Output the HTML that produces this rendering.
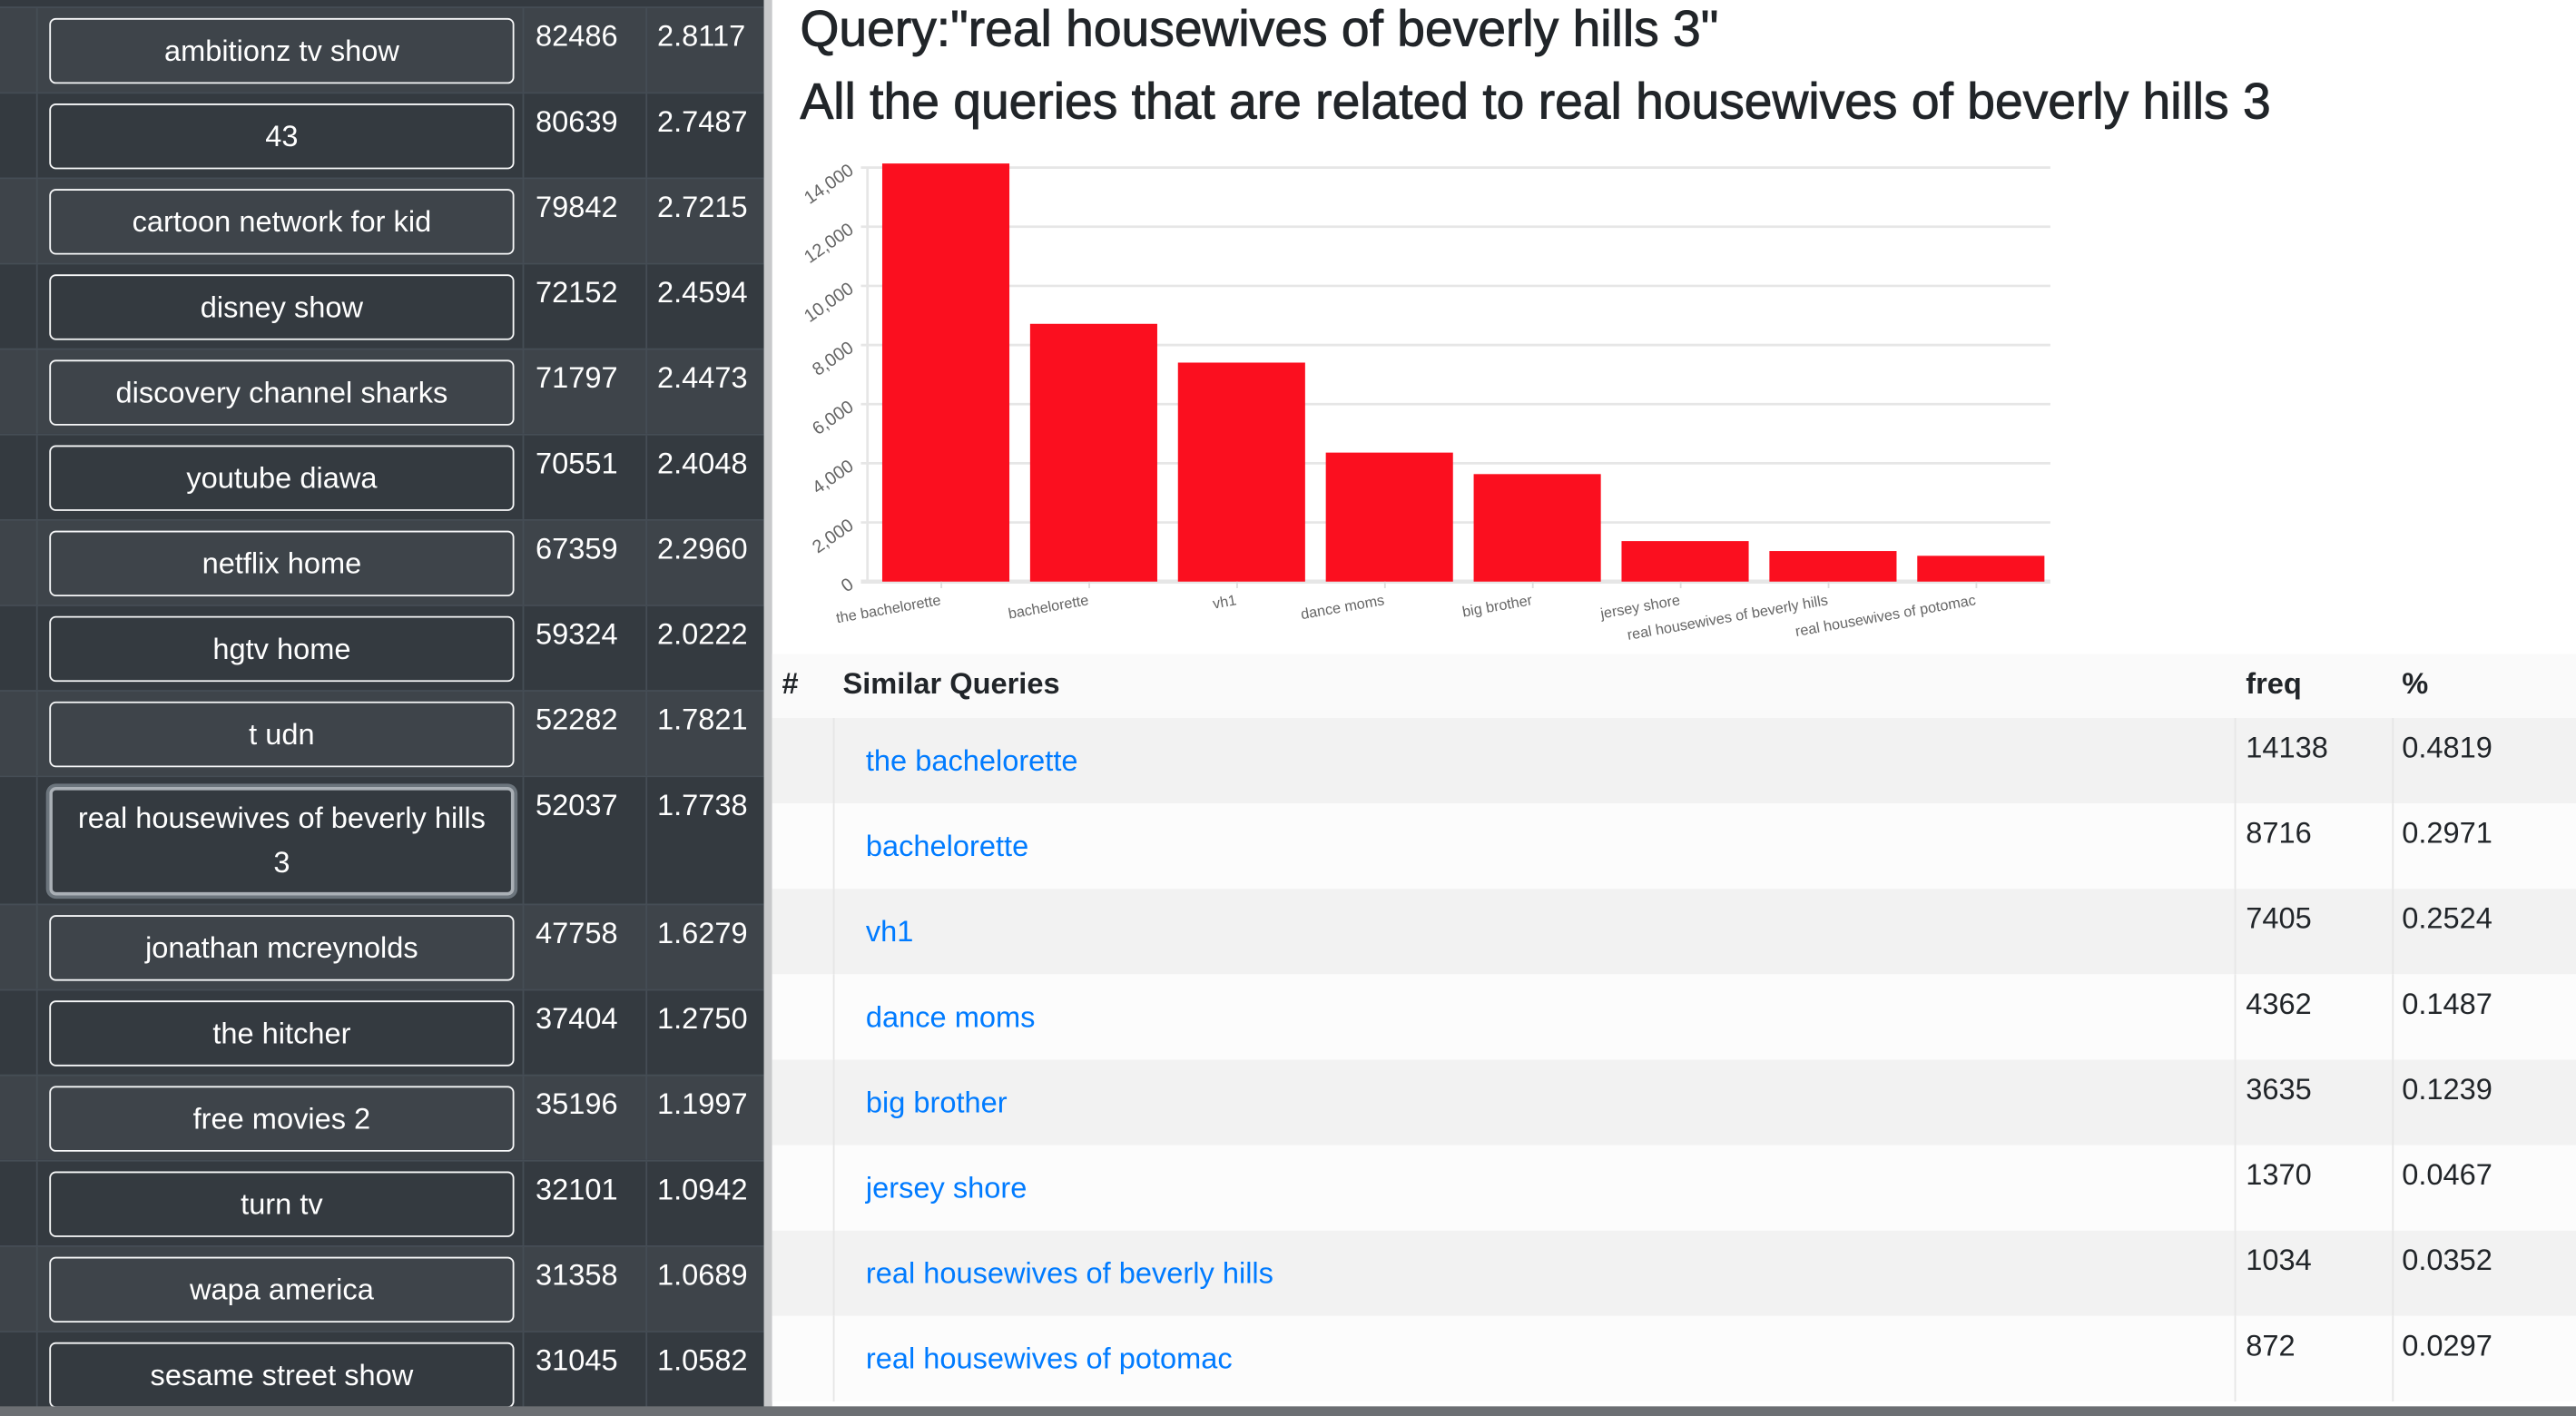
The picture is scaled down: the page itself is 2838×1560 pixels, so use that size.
<!DOCTYPE html>
<html><head><meta charset="utf-8">
<style>
html,body{margin:0;padding:0;width:2838px;height:1560px;overflow:hidden;background:#fff;}
#wrap{position:absolute;left:0;top:0;width:1568px;height:862px;transform:scale(1.81);transform-origin:0 0;font-family:"Liberation Sans",sans-serif;}
#left{position:absolute;left:0;top:0;width:465px;height:862px;background:#343a40;}
.row{position:absolute;left:0;width:465px;border-top:1px solid #454d55;box-sizing:border-box;}
.row .c0{position:absolute;left:22px;top:0;bottom:0;border-left:1px solid #454d55;}
.row .c2{position:absolute;left:318px;top:0;bottom:0;border-left:1px solid #454d55;}
.row .c3{position:absolute;left:393px;top:0;bottom:0;border-left:1px solid #454d55;}
.btn{position:absolute;left:30px;width:283px;border:1.5px solid #f8f9fa;border-radius:4px;box-sizing:border-box;color:#fff;font-size:18px;display:flex;align-items:center;justify-content:center;text-align:center;line-height:27px;}
.num{position:absolute;color:#fff;font-size:18px;top:7px;}
#scroll{position:absolute;left:465px;top:0;width:5px;height:862px;background:#c8c9cb;}
h1{position:absolute;margin:0;font-weight:normal;font-size:30.5px;color:#212529;left:487px;white-space:nowrap;-webkit-text-stroke:0.5px #212529;}
#tbl{position:absolute;left:470px;top:398px;width:1098px;}
.tr{position:absolute;left:0;width:1098px;}
.tr .v{position:absolute;top:0;bottom:0;border-left:1px solid #e6e6e6;}
.lnk{position:absolute;left:57px;color:#007bff;font-size:18px;}
.td{position:absolute;font-size:18px;color:#212529;top:8px;}
</style></head><body>
<div id="wrap">
<div id="left"></div>
<div id="scroll"></div>
<h1 style="top:1px">Query:"real housewives of beverly hills 3"</h1>
<h1 style="top:45px">All the queries that are related to real housewives of beverly hills 3</h1>
<svg id="chart" style="position:absolute;left:470px;top:90px" width="800" height="300"></svg>
<div id="tbl"></div>
<div style="position:absolute;left:0;top:856px;width:1568px;height:6px;background:#6c6f73"></div>
</div>
<script>
const leftNames=["ambitionz tv show","43","cartoon network for kid","disney show","discovery channel sharks","youtube diawa","netflix home","hgtv home","t udn","real housewives of beverly hills 3","jonathan mcreynolds","the hitcher","free movies 2","turn tv","wapa america","sesame street show"];
const leftFreq=["82486","80639","79842","72152","71797","70551","67359","59324","52282","52037","47758","37404","35196","32101","31358","31045"];
const leftPct=["2.8117","2.7487","2.7215","2.4594","2.4473","2.4048","2.2960","2.0222","1.7821","1.7738","1.6279","1.2750","1.1997","1.0942","1.0689","1.0582"];
const cats=["the bachelorette","bachelorette","vh1","dance moms","big brother","jersey shore","real housewives of beverly hills","real housewives of potomac"];
const freqs=[14138,8716,7405,4362,3635,1370,1034,872];
const pcts=["0.4819","0.2971","0.2524","0.1487","0.1239","0.0467","0.0352","0.0297"];
const yTicks=[0,2000,4000,6000,8000,10000,12000,14000];

const left=document.getElementById('left');
let y=4;
leftNames.forEach((n,i)=>{
  const h=(i===9)?78:52;
  const r=document.createElement('div');
  r.className='row';
  
  
  r.style.top=y+'px';r.style.height=h+'px';
  r.style.background=(i%2===0)?'#3e444a':'#343a40';
  r.innerHTML='<div class="c0"></div><div class="c2"></div><div class="c3"></div>';
  const b=document.createElement('div');
  b.className='btn';
  
  
  b.style.top='6px';b.style.height=(h-12)+'px';
  if(i===9){b.style.border='2px solid #aab0b6';b.style.boxShadow='0 0 0 2px #6c757d';b.style.padding='0 14px';}
  b.textContent=n;r.appendChild(b);
  const f=document.createElement('div');f.className='num';f.style.left='326px';f.textContent=leftFreq[i];
  
  
  r.appendChild(f);
  const p=document.createElement('div');p.className='num';p.style.left='400px';p.textContent=leftPct[i];
  
  
  r.appendChild(p);
  left.appendChild(r);
  y+=h;
});

// chart
const svg=document.getElementById('chart');
const NS='http://www.w3.org/2000/svg';
const X0=58,X1=778,Y0=264,Y1=12,YMAX=14000;
const ys=v=>Y0-(v/YMAX)*(Y0-Y1);
const band=(X1-X0)/cats.length;
const xs=i=>X0+i*band;
function el(t,a){const e=document.createElementNS(NS,t);for(const k in a)e.setAttribute(k,a[k]);svg.appendChild(e);return e;}
yTicks.forEach(t=>{
  const g=el('line',{x1:X0-4,x2:X1,y1:ys(t),y2:ys(t),stroke:'#e6e6e6','stroke-width':t===0?2.5:1.5});
  
  
  const tx=el('text',{x:X0-10,y:ys(t)+4,'font-size':11,fill:'#666','text-anchor':'end',transform:`rotate(-35 ${X0-10} ${ys(t)})`});
  tx.textContent=t.toLocaleString('en-US');
  
  
});
el('line',{x1:X0,x2:X0,y1:Y1,y2:Y0,stroke:'#e6e6e6','stroke-width':1.5});
cats.forEach((c,i)=>{
  const r=el('rect',{x:xs(i)+band*0.1,y:ys(freqs[i]),width:band*0.86,height:Y0-ys(freqs[i]),fill:'#fb0f1f'});
  
  
  const cx=xs(i)+band*0.5;
  el('line',{x1:cx,x2:cx,y1:Y0,y2:Y0+4,stroke:'#ddd'});
  const t=el('text',{x:cx,y:Y0+14,'font-size':9,fill:'#666','text-anchor':'end',transform:`rotate(-10 ${cx} ${Y0+14})`});
  t.textContent=c;
  
  
});

// table
const tbl=document.getElementById('tbl');
const hd=document.createElement('div');
hd.className='tr';hd.style.top='0';hd.style.height='39px';hd.style.background='#fafafa';


hd.innerHTML='<div class="td" style="left:6px;font-weight:bold">#</div><div class="td" style="left:43px;font-weight:bold">Similar Queries</div><div class="td" style="left:897px;font-weight:bold">freq</div><div class="td" style="left:992px;font-weight:bold">%</div>';
tbl.appendChild(hd);
cats.forEach((c,i)=>{
  const r=document.createElement('div');
  r.className='tr';
  
  
  r.style.top=(39+i*52)+'px';r.style.height='52px';
  r.style.background=(i%2===0)?'#f2f2f2':'#fcfcfc';
  r.innerHTML='<div class="v" style="left:37px"></div><div class="v" style="left:890px"></div><div class="v" style="left:986px"></div>';
  const a=document.createElement('a');a.className='lnk';a.style.top='16px';a.textContent=c;
  
  
  r.appendChild(a);
  const f=document.createElement('div');f.className='td';f.style.left='897px';f.textContent=freqs[i];
  
  
  r.appendChild(f);
  const p=document.createElement('div');p.className='td';p.style.left='992px';p.textContent=pcts[i];
  
  
  r.appendChild(p);
  tbl.appendChild(r);
});
</script>
</body></html>
